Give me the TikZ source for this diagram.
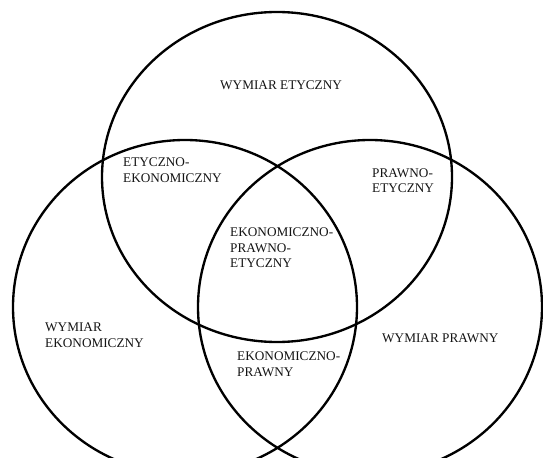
\documentclass[tikz,border=0pt]{standalone}
\usepackage{fontspec}
\setmainfont{Liberation Serif}
\usepackage{tikz}
\tikzset{set/.style = {line width=2pt},
         region/.style = {inner sep=0pt, anchor=west, align=left,
                          text=black!92, font=\fontsize{11.3}{13.2}\selectfont}}

\begin{document}
\begin{tikzpicture}[x=0.03cm, y=-0.03cm]
    \useasboundingbox (0, 0) rectangle (543, 458);
    \clip (0, 0) rectangle (543, 458);

    % the three dimensions
    \draw [set] (277, 177) ellipse [x radius=175, y radius=165];
    \draw [set] (185, 307) ellipse [x radius=172, y radius=167];
    \draw [set] (370, 307) ellipse [x radius=172, y radius=167];

    \node (etyczny) [region] at (220, 85) {WYMIAR ETYCZNY};
    \node (ekonomiczny) [region] at (45, 335) {WYMIAR\\EKONOMICZNY};
    \node (prawny) [region] at (382, 338) {WYMIAR PRAWNY};

    % overlaps
    \node (ety-eko) [region] at (123, 170) {ETYCZNO-\\EKONOMICZNY};
    \node (pra-ety) [region] at (372, 180.5) {PRAWNO-\\ETYCZNY};
    \node (eko-pra) [region] at (237, 364) {EKONOMICZNO-\\PRAWNY};
    \node (all) [region] at (230, 248) {EKONOMICZNO-\\PRAWNO-\\ETYCZNY}; % centre
\end{tikzpicture}
\end{document}
